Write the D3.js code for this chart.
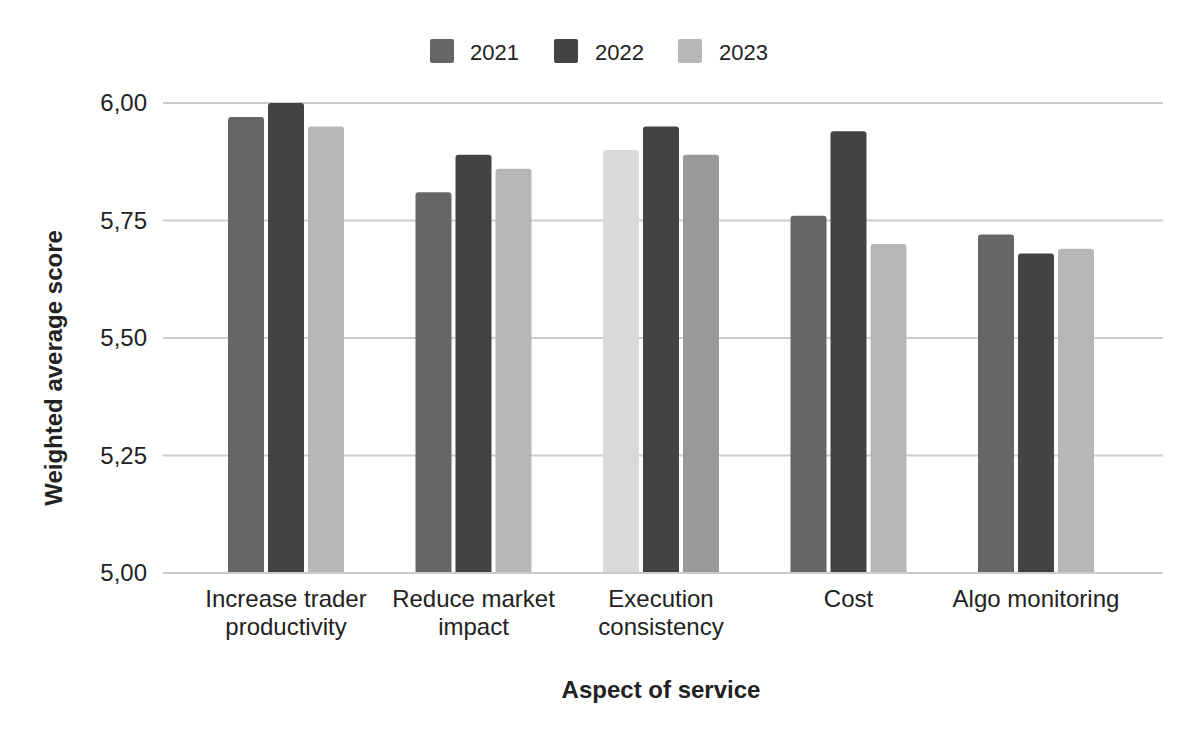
<!DOCTYPE html>
<html>
<head>
<meta charset="utf-8">
<script src="https://cdn.jsdelivr.net/npm/d3@7"></script>
<style>
  body { margin: 0; background: #fff; }
  svg { display: block; font-family: Arial, "Liberation Sans", Helvetica, sans-serif; }
</style>
</head>
<body>
<svg id="chart" width="1200" height="742"></svg>
<script>
// --- Data ---
const categories = [
    ["Increase trader", "productivity"],
    ["Reduce market", "impact"],
    ["Execution", "consistency"],
    ["Cost"],
    ["Algo monitoring"]
];
const seriesNames = ["2021", "2022", "2023"];
const values2021 = [5.97, 5.81, 5.90, 5.76, 5.72];
const values2022 = [6.00, 5.89, 5.95, 5.94, 5.68];
const values2023 = [5.95, 5.86, 5.89, 5.70, 5.69];
const seriesColors = ["#666666", "#434343", "#b7b7b7"];
// per-bar colour overrides (Execution consistency group)
const colors2021 = [null, null, "#d9d9d9", null, null];
const colors2023 = [null, null, "#999999", null, null];
const yTicks = [5.00, 5.25, 5.50, 5.75, 6.00];

const series = [values2021, values2022, values2023];
const overrides = [colors2021, null, colors2023];

// --- Layout ---
const svg = d3.select("#chart");
const plot = { left: 163, right: 1163, top: 103, bottom: 573 };

const x = d3.scaleBand()
    .domain(d3.range(categories.length))
    .range([192.25, 1129.75]);
const y = d3.scaleLinear().domain([5, 6]).range([plot.bottom, plot.top]);

const barW = 36, barGap = 4;
const groupW = barW * 3 + barGap * 2;

// Grid
svg.append("g").selectAll("line")
    .data(yTicks)
    .enter().append("line")
    .attr("x1", plot.left).attr("x2", plot.right)
    .attr("y1", d => y(d)).attr("y2", d => y(d))
    .attr("stroke", "#cccccc")
    .attr("stroke-width", 2);

// Y tick labels
const fmt = v => v.toFixed(2).replace(".", ",");
svg.append("g").selectAll("text")
    .data(yTicks)
    .enter().append("text")
    .attr("x", 147)
    .attr("y", d => y(d))
    .attr("dy", "0.35em")
    .attr("text-anchor", "end")
    .attr("font-size", 24)
    .attr("fill", "#222")
    .text(fmt);

// Bars with rounded top corners
function barPath(x0, w, yTop, yBot, r) {
    r = Math.min(r, (yBot - yTop));
    return `M${x0},${yBot}V${yTop + r}Q${x0},${yTop} ${x0 + r},${yTop}H${x0 + w - r}Q${x0 + w},${yTop} ${x0 + w},${yTop + r}V${yBot}Z`;
}

const barData = [];
series.forEach((vals, s) => {
    vals.forEach((v, i) => {
        const ov = overrides[s] ? overrides[s][i] : null;
        barData.push({ s, i, v, color: ov || seriesColors[s] });
    });
});

svg.append("g").selectAll("path")
    .data(barData)
    .enter().append("path")
    .attr("d", d => {
        const x0 = x(d.i) + (x.bandwidth() - groupW) / 2 + d.s * (barW + barGap);
        return barPath(x0, barW, y(d.v), y(5) - 1, 3);
    })
    .attr("fill", d => d.color);

// Baseline
svg.append("line")
    .attr("x1", plot.left).attr("x2", plot.right)
    .attr("y1", y(5)).attr("y2", y(5))
    .attr("stroke", "#cccccc").attr("stroke-width", 2);

// Category labels
const catG = svg.append("g").selectAll("text")
    .data(categories)
    .enter().append("text")
    .attr("x", (d, i) => x(i) + x.bandwidth() / 2)
    .attr("y", 607)
    .attr("text-anchor", "middle")
    .attr("font-size", 24)
    .attr("fill", "#222");
catG.selectAll("tspan")
    .data(d => d)
    .enter().append("tspan")
    .attr("x", function () { return this.parentNode.getAttribute("x"); })
    .attr("dy", (d, j) => j === 0 ? 0 : 28)
    .text(d => d);

// Axis titles
svg.append("text")
    .attr("x", 661).attr("y", 698)
    .attr("text-anchor", "middle")
    .attr("font-size", 24).attr("font-weight", "bold")
    .attr("fill", "#222")
    .text("Aspect of service");

svg.append("text")
    .attr("transform", "translate(62,368) rotate(-90)")
    .attr("text-anchor", "middle")
    .attr("font-size", 24).attr("font-weight", "bold")
    .attr("fill", "#222")
    .text("Weighted average score");

// Legend
const legendX = [430, 554, 678];
const legend = svg.append("g").selectAll("g")
    .data(seriesNames)
    .enter().append("g")
    .attr("transform", (d, i) => `translate(${legendX[i]},39)`);
legend.append("rect")
    .attr("width", 24).attr("height", 24)
    .attr("rx", 2)
    .attr("fill", (d, i) => seriesColors[i]);
legend.append("text")
    .attr("x", (d, i) => i === 0 ? 40 : 41)
    .attr("y", 21)
    .attr("font-size", 22)
    .attr("fill", "#222")
    .text(d => d);
</script>
</body>
</html>
